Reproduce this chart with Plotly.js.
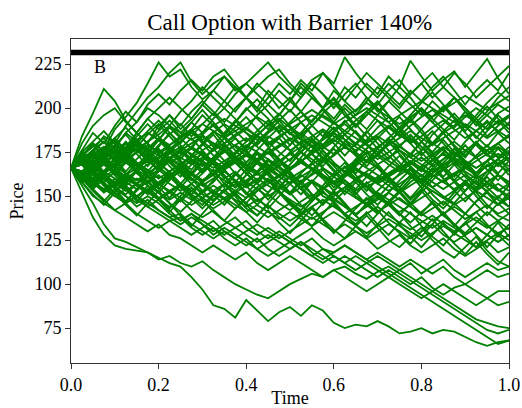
<!DOCTYPE html>
<html>
<head>
<meta charset="utf-8">
<script src="https://cdn.plot.ly/plotly-3.0.1.min.js"></script>
<style>html,body{margin:0;padding:0;background:#fff;}#chart{width:522px;height:408px;}</style>
</head>
<body>
<div id="chart"></div>
<script>
// ---- data ----
const times = [0,0.025,0.05,0.075,0.1,0.125,0.15,0.175,0.2,0.225,0.25,0.275,0.3,0.325,0.35,0.375,0.4,0.425,0.45,0.475,0.5,0.525,0.55,0.575,0.6,0.625,0.65,0.675,0.7,0.725,0.75,0.775,0.8,0.825,0.85,0.875,0.9,0.925,0.95,0.975,1];
const spotPrice = 165.5;
const barrierPct = 1.40;
const barrierLabel = "B";
const xTicks = [0, 0.2, 0.4, 0.6, 0.8, 1.0];
const yTicks = [75, 100, 125, 150, 175, 200, 225];

const highPaths = [
 [166,184,197,211,204,193,186,180,174,178, 170,165,172,168,160,164,158,163,170,166, 160,154,158,150,147,153,160,156,150,146, 152,158,162,155,150,146,140,147,152,148, 144],
 [166,172,180,176,188,195,203,214,226,218, 222,212,205,210,218,212,206,214,208,200, 206,198,192,200,205,196,190,198,204,196, 188,194,200,192,186,190,198,192,184,190, 195],
 [166,170,176,184,180,190,198,206,212,220, 226,215,208,214,218,210,214,220,226,218, 212,206,214,208,200,208,214,206,198,204, 212,206,198,192,200,206,198,190,196,202, 198],
 [166,160,168,175,170,178,186,180,190,196, 188,194,202,196,204,212,206,198,206,214, 208,216,210,220,214,229,220,212,206,214, 208,202,196,204,198,206,200,194,188,196, 190],
 [166,174,168,176,182,176,186,194,188,196, 190,198,204,198,192,200,206,200,210,204, 198,206,214,208,202,212,206,214,208,218, 212,227,218,210,216,221,212,220,228,217, 208],
 [166,158,166,172,166,174,180,174,182,190, 184,192,186,194,200,194,188,196,202,196, 204,198,206,200,194,202,196,204,212,206, 200,208,214,206,212,220,214,206,212,218, 224],
 [166,176,186,180,190,198,192,202,208,202, 210,216,210,218,222,214,206,212,218,222, 214,208,216,220,212,204,198,206,200,192, 186,194,188,180,186,178,172,180,174,168, 174],
 [166,162,170,164,172,180,176,170,178,186, 180,188,196,190,184,192,200,194,188,196, 204,212,206,200,210,204,212,220,214,208, 202,210,204,212,218,210,202,210,216,210, 220],
 [166,180,190,196,200,192,186,194,200,206, 200,194,202,210,204,198,206,200,194,186, 192,198,190,184,192,200,194,188,196,204, 198,192,200,194,188,182,190,184,178,186, 180],
 [166,172,164,170,178,186,192,200,196,190, 198,204,212,206,200,208,214,208,202,210, 204,214,208,200,206,198,190,196,202,210, 216,208,214,220,212,206,200,192,198,206, 212]
];

const midPaths = [
 [166,171,163,168,175,170,165,171,177,169, 163,159,165,172,176,169,163,157,152,159, 165,171,165,160,153,161,167,173,166,159, 155,148,154,161,166,159,153,161,168,162, 157],
 [166,161,154,160,155,151,157,162,157,152, 147,153,158,153,148,143,149,155,160,153, 147,142,149,155,149,144,139,145,151,146, 140,135,141,146,139,134,129,135,141,136, 131],
 [166,173,178,183,177,186,181,175,182,189, 183,177,185,191,184,178,173,181,187,193, 186,179,175,183,189,182,175,170,177,183, 189,183,176,185,191,197,190,183,190,197, 201],
 [166,161,168,163,157,163,156,151,157,162, 155,150,145,151,157,150,143,139,145,138, 133,139,144,137,131,126,133,139,132,125, 121,127,132,125,119,115,121,127,119,113, 110],
 [166,175,169,163,171,177,182,175,169,176, 183,188,181,176,183,189,195,188,181,175, 170,177,183,176,169,164,171,177,183,176, 169,163,158,165,171,177,170,163,170,177, 171],
 [166,158,165,158,152,147,153,159,152,146, 141,147,153,158,165,158,151,158,165,171, 164,157,163,170,177,170,163,170,177,183, 176,169,164,171,177,170,163,157,164,171, 165],
 [166,171,176,169,164,170,163,158,165,171, 176,169,163,170,177,183,176,169,163,157, 152,159,151,146,153,159,152,145,140,147, 153,146,140,147,140,133,140,147,153,145, 150],
 [166,161,156,163,169,175,168,161,168,175, 181,187,180,173,168,175,181,187,193,186, 179,186,193,199,192,185,179,186,193,186, 179,173,181,187,180,173,181,187,193,186, 192],
 [166,176,169,176,183,176,169,164,157,164, 157,151,158,165,157,151,146,153,159,152, 145,140,147,153,146,139,134,141,134,128, 135,141,133,127,122,129,135,128,121,128, 122],
 [166,160,167,173,166,172,179,172,165,160, 167,173,179,185,177,171,178,185,178,171, 165,172,179,172,165,159,154,161,167,160, 153,160,167,173,166,159,166,173,179,172, 178],
 [166,168,160,153,160,154,147,154,148,141, 148,155,148,141,136,143,149,155,148,155, 161,154,147,154,161,167,160,153,160,167, 173,166,159,166,160,153,147,154,161,154, 148],
 [166,173,180,173,167,176,184,191,184,177, 171,178,185,178,186,193,186,179,186,193, 199,192,185,179,186,179,173,167,174,181, 174,167,161,168,175,168,161,155,162,169, 162],
 [166,160,165,171,164,158,165,171,164,170, 163,157,152,159,165,158,165,171,177,170, 163,157,151,145,152,145,139,146,153,159, 152,145,152,159,165,158,151,145,139,146, 140],
 [166,171,164,157,152,159,165,158,152,159, 165,171,164,170,177,170,163,170,177,183, 176,169,176,183,189,182,175,182,189,195, 188,181,188,195,201,194,187,194,201,194, 188],
 [166,164,171,177,183,189,182,175,182,175, 169,163,170,177,170,163,157,164,171,164, 157,151,158,165,158,151,158,151,145,152, 159,165,158,151,145,152,159,152,145,139, 136],
 [166,158,151,145,152,145,139,146,153,146, 139,133,140,147,153,159,152,145,152,159, 152,145,139,146,153,146,139,133,140,147, 140,133,127,134,141,134,127,121,128,135, 127],
 [166,173,166,173,179,185,178,185,191,184, 177,171,165,172,179,172,165,159,166,173, 179,185,178,171,178,185,191,184,177,171, 178,185,178,171,165,172,179,172,165,159, 166],
 [166,162,169,175,181,174,167,174,167,161, 155,162,169,162,155,162,169,175,168,161, 168,175,181,174,167,161,168,175,168,161, 155,149,156,163,169,175,168,161,155,149, 156],
 [166,171,175,168,162,169,175,181,187,193, 186,192,199,192,185,192,199,205,198,191, 185,192,185,179,186,193,186,179,173,180, 187,180,173,180,187,193,186,179,173,180, 174],
 [166,160,153,147,154,147,154,161,154,161, 167,160,153,147,154,147,141,135,142,135, 129,136,143,136,129,136,143,149,142,135, 129,123,130,137,130,123,117,124,117,111, 118],
 [166,173,179,172,179,172,165,172,179,185, 191,184,191,197,190,183,177,184,191,197, 190,183,190,197,203,196,189,196,203,196, 189,196,203,209,202,195,189,196,203,209, 204],
 [166,162,155,162,155,162,169,162,155,149, 156,149,143,150,157,163,156,149,143,150, 157,163,169,162,155,162,169,175,168,161, 155,162,155,148,143,150,157,150,143,150, 144],
 [166,168,175,181,174,181,174,167,174,167, 161,168,175,168,161,155,162,169,162,155, 162,155,149,156,163,169,162,155,149,156, 163,169,175,168,161,168,175,181,174,167, 172],
 [166,164,157,164,171,164,171,177,170,163, 157,164,157,151,145,152,145,139,146,153, 146,139,133,140,147,140,133,127,134,141, 134,127,121,128,135,128,135,141,134,127, 134],
 [166,175,181,187,180,173,180,187,193,186, 179,173,180,187,180,173,167,174,167,161, 168,175,181,187,180,173,180,187,180,173, 167,174,181,174,167,161,168,161,155,162, 156],
 [166,158,163,169,162,155,149,156,149,143, 150,157,163,169,162,155,162,169,175,168, 175,181,174,167,174,181,187,180,173,180, 187,193,186,179,186,179,173,180,187,193, 186],
 [166,171,164,171,164,157,164,157,164,171, 177,183,176,169,176,169,163,157,164,157, 151,158,165,171,164,157,151,158,151,145, 139,146,153,146,139,146,153,159,152,145, 152],
 [166,162,171,177,170,163,157,164,171,177, 170,163,170,177,183,176,169,176,183,189, 182,175,169,176,169,163,170,177,183,189, 195,188,181,175,182,175,169,163,170,163, 170]
];

const extraPaths = [
 [166,163,169,174,171,176,180,177,183,179, 184,188,182,186,191,187,181,185,190,194, 189,185,190,196,192,187,193,198,193,189, 184,190,195,199,194,189,195,200,196,191, 196],
 [166,169,165,160,163,158,154,158,162,157, 153,157,151,148,153,157,152,147,151,146, 142,147,151,146,150,155,150,146,141,145, 149,144,139,143,147,142,137,141,145,140, 143],
 [166,170,174,170,166,171,167,172,176,172, 168,173,169,164,168,172,167,171,175,171, 166,170,174,169,173,178,174,169,173,168, 164,168,172,167,171,175,170,166,170,174, 170],
 [166,161,165,170,166,161,157,161,165,170, 165,160,156,160,164,159,155,159,163,167, 162,158,162,166,161,157,153,157,161,156, 152,156,160,155,159,163,158,154,158,162, 158],
 [166,172,168,174,179,175,181,186,182,177, 181,186,181,176,180,185,189,184,179,183, 188,183,178,182,187,191,186,181,185,190, 185,180,184,189,193,188,183,187,192,187, 183],
 [166,162,158,162,157,153,157,152,148,152, 156,151,147,143,147,151,146,142,138,142, 146,141,137,141,145,140,136,140,144,139, 135,131,135,139,134,130,134,138,133,129, 132],
 [166,168,173,178,174,170,175,179,175,171, 176,180,184,180,175,179,183,178,174,178, 182,186,181,177,181,185,180,176,171,175, 179,183,178,173,177,181,176,172,176,180, 185],
 [166,164,160,164,168,173,169,165,160,164, 168,163,159,163,167,171,167,163,158,162, 166,170,166,162,158,162,166,161,157,161, 165,169,165,161,165,169,164,160,164,168, 164],
 [166,171,167,163,168,172,177,173,169,174, 178,174,170,166,170,174,179,175,171,167, 171,175,171,166,162,166,170,166,162,158, 162,166,162,158,154,158,162,157,153,157, 153],
 [166,161,157,153,157,161,157,153,149,153, 157,153,149,145,149,153,158,154,150,154, 158,162,158,154,158,163,159,155,159,163, 167,163,159,163,167,171,167,163,167,171, 175],
 [166,169,173,169,173,177,181,177,173,169, 173,177,173,169,165,169,173,169,165,161, 165,169,165,161,157,161,165,161,157,153, 157,161,157,153,149,153,157,153,149,145, 149],
 [166,163,167,171,167,163,159,163,167,171, 175,171,167,171,175,179,175,171,175,179, 183,179,175,179,183,187,183,179,175,179, 183,187,183,179,183,187,191,187,183,187, 191],
 [166,168,164,160,156,160,156,152,156,160, 164,160,156,152,148,152,156,160,156,152, 148,144,148,152,148,144,140,144,148,152, 148,144,140,136,140,144,140,136,132,136, 140],
 [166,171,176,181,177,173,177,181,185,190, 186,182,186,190,194,190,186,182,186,190, 186,182,178,182,186,182,178,174,178,182, 178,174,170,174,178,174,170,166,170,174, 170],
 [166,162,166,162,158,162,166,170,166,162, 166,170,174,170,166,170,174,170,166,162, 166,170,166,162,158,162,166,162,158,162, 166,170,166,170,174,170,166,170,174,178, 174],
 [166,170,166,171,175,171,167,163,167,171, 167,163,159,163,159,155,159,163,159,155, 151,155,159,155,151,155,159,163,159,163, 167,163,159,155,159,163,167,163,167,171, 167],
 [166,163,159,163,167,171,175,179,175,179, 183,187,191,187,183,187,191,195,191,187, 191,195,199,195,191,195,199,203,199,195, 191,195,199,195,199,203,207,203,199,203, 207],
 [166,169,165,169,173,169,165,161,157,161, 157,153,149,153,149,145,141,145,141,137, 141,137,133,137,141,137,133,129,133,137, 133,129,125,129,133,129,125,121,125,129, 125],
 [166,164,168,172,176,172,168,172,168,164, 168,172,176,180,176,172,176,180,184,180, 176,180,184,188,184,180,176,180,184,180, 176,172,176,180,176,172,168,172,176,180, 184],
 [166,170,174,178,174,178,182,186,182,178, 174,178,174,170,166,170,166,162,166,170, 174,170,174,178,182,178,174,170,174,170, 166,162,158,162,158,154,158,162,158,154, 150],
 [166,162,158,154,158,154,150,154,158,162, 166,162,158,162,166,170,174,170,166,170, 174,178,182,178,174,178,174,170,166,162, 166,170,166,162,158,162,166,162,158,162, 158],
 [166,168,172,168,164,160,164,168,172,176, 172,168,172,176,180,184,188,184,180,184, 188,192,196,192,188,192,196,200,196,192, 196,200,204,200,196,192,196,192,188,192, 196],
 [166,164,160,164,160,156,160,156,152,148, 152,148,152,156,152,148,144,148,144,140, 136,140,144,148,144,140,144,148,152,148, 144,140,136,132,136,132,128,132,128,124, 128],
 [166,170,175,171,176,180,176,172,168,172, 176,180,184,180,176,172,168,164,168,164, 160,164,168,172,168,164,160,164,168,172, 176,172,168,164,168,172,176,180,176,172, 176],
 [166,161,157,161,165,161,157,153,157,153, 149,145,149,153,157,153,149,153,157,161, 157,161,165,161,157,153,149,145,149,145, 141,145,149,153,149,145,149,153,157,153, 157]
];

const lowPaths = [
 [166,152,138,128,122,120,119,118,115,112, 110,104,97,88,86,81,91,85,79,84, 87,82,88,85,78,75,77,76,79,76, 72,73,75,72,74,73,70,67,65,67, 68],
 [166,156,146,134,126,124,121,118,114,116, 112,110,113,108,104,100,97,94,92,96, 100,103,106,104,108,110,106,103,107,110, 106,102,98,94,90,86,82,78,74,72, 74],
 [166,160,154,148,142,138,134,130,134,128, 126,122,118,122,118,114,118,112,108,112, 116,112,108,104,108,104,100,96,100,104, 100,96,92,96,92,88,84,80,78,76, 75],
 [166,162,168,160,154,150,144,148,142,138, 140,134,130,126,130,126,122,126,120,116, 120,124,120,116,112,116,112,108,104,108, 104,100,104,98,94,98,100,96,92,96, 96],
 [166,170,162,156,152,146,150,144,140,136, 138,132,128,132,126,122,126,120,116,120, 124,120,116,112,116,112,108,112,116,112, 108,112,106,110,114,108,104,108,112,108, 110],
 [166,160,164,156,150,154,148,144,148,142, 136,140,134,130,134,138,132,128,132,128, 124,128,132,126,122,126,130,126,120,124, 128,122,118,122,126,120,116,120,124,118, 121],
 [166,168,162,158,164,156,150,154,148,144, 148,142,138,142,136,132,136,130,126,130, 126,122,126,120,118,122,118,114,110,106, 102,98,94,90,86,82,78,74,70,66, 68],
 [166,164,158,152,156,150,146,150,146,140, 136,140,136,132,128,132,128,124,128,124, 120,124,118,114,118,122,118,114,118,114, 110,114,110,106,110,104,100,104,108,104, 106],
 [166,158,150,146,142,146,140,136,132,136, 132,128,132,136,130,126,130,134,130,126, 130,134,138,134,130,134,130,126,130,134, 130,126,130,134,128,124,128,132,128,124, 128],
 [166,162,158,154,150,146,150,146,142,138, 134,138,134,128,132,128,124,120,124,128, 124,120,116,120,116,112,116,112,108,104, 108,104,100,96,100,96,92,88,92,88, 90]
];

// ---- check ----
const allPaths = highPaths.concat(midPaths, extraPaths, lowPaths);
allPaths.forEach((p, i) => { if (p.length !== times.length) throw new Error("path " + i + " has " + p.length); });

const barrierLevel = spotPrice * barrierPct;
const green = "#008000";
const traces = allPaths.map(p => ({
  x: times, y: p, type: "scatter", mode: "lines",
  line: {color: green, width: 1.8}, hoverinfo: "skip", showlegend: false
}));
traces.push({
  x: [times[0], times[times.length - 1]], y: [barrierLevel, barrierLevel],
  type: "scatter", mode: "lines", line: {color: "#000000", width: 5.5},
  hoverinfo: "skip", showlegend: false
});

const fontFam = "Liberation Serif, Times New Roman, serif";
const layout = {
  width: 522, height: 408,
  margin: {l: 71, r: 13, t: 39, b: 45},
  paper_bgcolor: "#ffffff", plot_bgcolor: "#ffffff",
  font: {family: fontFam, color: "#000000", size: 18},
  title: {text: "Call Option with Barrier 140%", font: {family: fontFam, size: 23, color: "#000"},
          x: 0.555, xanchor: "center", y: 0.947, yref: "container", yanchor: "middle"},
  xaxis: {
    range: [0, 1], tickvals: xTicks, tickformat: ".1f",
    showgrid: false, zeroline: false, showline: true, mirror: true,
    linecolor: "#333", linewidth: 1, ticks: "outside", ticklen: 5, tickcolor: "#333",
    tickfont: {family: fontFam, size: 18},
    title: {text: "Time", font: {family: fontFam, size: 18}, standoff: 5}
  },
  yaxis: {
    range: [55.2, 239.3], tickvals: yTicks,
    showgrid: false, zeroline: false, showline: true, mirror: true,
    linecolor: "#333", linewidth: 1, ticks: "outside", ticklen: 5, tickcolor: "#333",
    tickfont: {family: fontFam, size: 18},
    title: {text: "Price", font: {family: fontFam, size: 18}, standoff: 6}
  },
  annotations: [{
    x: 0.048, y: 223.5, xref: "x", yref: "y", text: barrierLabel, showarrow: false,
    xanchor: "left", yanchor: "middle", font: {family: fontFam, size: 18, color: "#000"}
  }]
};

Plotly.newPlot("chart", traces, layout, {staticPlot: true, displayModeBar: false});
</script>
</body>
</html>
